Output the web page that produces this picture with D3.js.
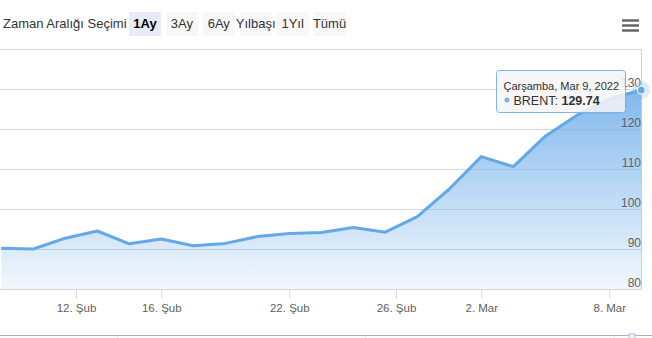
<!DOCTYPE html>
<meta charset="utf-8">
<script src="https://d3js.org/d3.v7.min.js"></script>
<style>
  body { margin: 0; background: #fff; }
  svg { display: block; font-family: "Liberation Sans", Arial, sans-serif; }
</style>
<svg id="chart" width="652" height="338"></svg>
<script>
    // Trading days shown in the 1 month range
    var days = ["2022-02-09", "2022-02-10", "2022-02-11", "2022-02-14", "2022-02-15",
        "2022-02-16", "2022-02-17", "2022-02-18", "2022-02-21", "2022-02-22",
        "2022-02-23", "2022-02-24", "2022-02-25", "2022-02-28", "2022-03-01",
        "2022-03-02", "2022-03-03", "2022-03-04", "2022-03-07", "2022-03-08",
        "2022-03-09"];
    // BRENT values
    var brent = [90.2, 90.0, 92.7, 94.5, 91.3, 92.5, 90.8, 91.4, 93.1, 93.9,
        94.1, 95.4, 94.2, 98.1, 105.0, 113.1, 110.6, 118.2, 123.5, 127.5, 129.74];

    var tickDays = ["2022-02-12", "2022-02-16", "2022-02-22", "2022-02-26", "2022-03-02", "2022-03-08"];
    var tickLabels = ["12. Şub", "16. Şub", "22. Şub", "26. Şub", "2. Mar", "8. Mar"];
    var yTicks = [80, 90, 100, 110, 120, 130, 140];
    var buttons = ["1Ay", "3Ay", "6Ay", "Yılbaşı", "1Yıl", "Tümü"];

    var svg = d3.select("#chart");
    var parse = d3.timeParse("%Y-%m-%d");
    var dates = days.map(parse);

    // plot box (note: "top" is reserved on window)
    var pLeft = 0, pRight = 642, pTop = 49, pBottom = 289;

    // ordinal-like time axis: weekends collapsed
    var idx = d3.scaleLinear().domain([0, dates.length - 1]).range([1.3, 641.3]);
    var x = d3.scaleTime()
        .domain(dates)
        .range(dates.map(function(d, i){ return idx(i); }));
    var y = d3.scaleLinear().domain([80, 140]).range([pBottom, pTop]);

    // range selector
    svg.append("text")
        .attr("x", 3).attr("y", 28)
        .style("font-size", "13px").style("fill", "#333")
        .text("Zaman Aralığı Seçimi");

    var btn = svg.append("g").selectAll("g")
        .data(buttons).enter().append("g")
        .attr("transform", function(d, i){ return "translate(" + (129 + i * 36.9) + ",12)"; });
    btn.append("rect")
        .attr("width", 32).attr("height", 24)
        .attr("fill", function(d, i){ return i == 0 ? "#e6ebf5" : "#f7f7f7"; });
    btn.append("text")
        .attr("x", 16).attr("y", 16)
        .attr("text-anchor", "middle")
        .style("font-size", "13px")
        .style("font-weight", function(d, i){ return i == 0 ? "bold" : "normal"; })
        .style("fill", function(d, i){ return i == 0 ? "#000" : "#333"; })
        .text(function(d){ return d; });

    // hamburger
    svg.append("g").selectAll("line")
        .data([0, 1, 2]).enter().append("line")
        .attr("x1", 622).attr("x2", 639)
        .attr("y1", function(d){ return 20.5 + d * 5; })
        .attr("y2", function(d){ return 20.5 + d * 5; })
        .attr("stroke", "#666").attr("stroke-width", 2.5);

    // grid
    svg.append("g").selectAll("line")
        .data(yTicks.slice(1)).enter().append("line")
        .attr("x1", pLeft).attr("x2", pRight)
        .attr("y1", function(d){ return Math.round(y(d)) + 0.5; })
        .attr("y2", function(d){ return Math.round(y(d)) + 0.5; })
        .attr("stroke", "#d8d8d8");
    svg.append("line")
        .attr("x1", pRight - 0.5).attr("x2", pRight - 0.5)
        .attr("y1", pTop).attr("y2", pBottom)
        .attr("stroke", "#d0d0d0");

    // area + line
    var grad = svg.append("defs").append("linearGradient")
        .attr("id", "fillGrad").attr("x1", 0).attr("y1", 0).attr("x2", 0).attr("y2", 1);
    grad.append("stop").attr("offset", "0%").attr("stop-color", "#7cb5ec").attr("stop-opacity", 0.95);
    grad.append("stop").attr("offset", "100%").attr("stop-color", "#7cb5ec").attr("stop-opacity", 0.1);

    svg.append("clipPath").attr("id", "plotClip")
        .append("rect").attr("x", pLeft).attr("y", pTop - 10)
        .attr("width", pRight - pLeft + 12).attr("height", pBottom - pTop + 10);

    var plot = svg.append("g").attr("clip-path", "url(#plotClip)");
    plot.append("path")
        .datum(brent)
        .attr("fill", "url(#fillGrad)")
        .attr("d", d3.area()
            .x(function(d, i){ return x(dates[i]); })
            .y0(pBottom)
            .y1(function(d){ return y(d); }));
    plot.append("path")
        .datum(brent)
        .attr("fill", "none")
        .attr("stroke", "#65a8e8")
        .attr("stroke-width", 3)
        .attr("stroke-linejoin", "round")
        .attr("d", d3.line()
            .x(function(d, i){ return x(dates[i]); })
            .y(function(d){ return y(d); }));

    // y labels
    svg.append("g").selectAll("text")
        .data(yTicks.slice(0, -1)).enter().append("text")
        .attr("x", 641).attr("y", function(d){ return Math.round(y(d)) - 2.5; })
        .attr("text-anchor", "end")
        .style("font-size", "12px").style("fill", "#606060")
        .text(function(d){ return d; });

    // x axis
    var xAxis = svg.append("g")
        .attr("transform", "translate(0," + (pBottom + 0.5) + ")")
        .call(d3.axisBottom(x)
            .tickValues(tickDays.map(parse))
            .tickFormat(function(d, i){ return tickLabels[i]; })
            .tickSize(9).tickPadding(5));
    xAxis.select(".domain").remove();
    xAxis.selectAll(".tick line").attr("stroke", "#ccd6eb");
    xAxis.selectAll(".tick text")
        .style("font-size", "11.5px").style("fill", "#606060")
        .style("font-family", "Liberation Sans, Arial, sans-serif");
    svg.append("line")
        .attr("x1", pLeft).attr("x2", pRight)
        .attr("y1", pBottom + 0.5).attr("y2", pBottom + 0.5)
        .attr("stroke", "#ccd6eb");

    // navigator top edge
    svg.append("line")
        .attr("x1", 0).attr("x2", 652).attr("y1", 335.5).attr("y2", 335.5)
        .attr("stroke", "#b0b0b0");
    svg.append("g").selectAll("line")
        .data([117, 365, 614]).enter().append("line")
        .attr("x1", function(d){ return d + 0.5; }).attr("x2", function(d){ return d + 0.5; })
        .attr("y1", 336).attr("y2", 338)
        .attr("stroke", "#e6e6e6");
    svg.append("rect")
        .attr("x", 629).attr("y", 334).attr("width", 6).attr("height", 6)
        .attr("fill", "#f2f2f2").attr("stroke", "#9fc5ec");

    // hovered point
    var last = brent.length - 1;
    var px = x(dates[last]), py = y(brent[last]);
    svg.append("circle").attr("cx", px).attr("cy", py).attr("r", 9)
        .attr("fill", "#7cb5ec").attr("fill-opacity", 0.25);
    svg.append("circle").attr("cx", px).attr("cy", py).attr("r", 4)
        .attr("fill", "#65a8e8").attr("stroke", "#fff").attr("stroke-width", 1);

    // tooltip
    var tip = svg.append("g").attr("transform", "translate(" + (Math.round(px) - 144.5) + "," + (Math.round(py) - 19.5) + ")");
    tip.append("rect").attr("x", 1).attr("y", 1).attr("width", 129).attr("height", 42).attr("rx", 3)
        .attr("fill", "#000").attr("fill-opacity", 0.06);
    tip.append("rect").attr("width", 129).attr("height", 42).attr("rx", 3)
        .attr("fill", "#f7f7f7").attr("fill-opacity", 0.85)
        .attr("stroke", "#7cb5ec");
    tip.append("text").attr("x", 7).attr("y", 19)
        .style("font-size", "11px").style("fill", "#333")
        .text(d3.timeFormat("Çarşamba, Mar %-d, %Y")(dates[last]));
    tip.append("circle").attr("cx", 10.5).attr("cy", 29.5).attr("r", 2.5).attr("fill", "#7cb5ec");
    var t2 = tip.append("text").attr("x", 17).attr("y", 34)
        .style("font-size", "12.5px").style("fill", "#333");
    t2.append("tspan").text("BRENT: ");
    t2.append("tspan").style("font-weight", "bold").text(brent[last].toFixed(2));
</script>
